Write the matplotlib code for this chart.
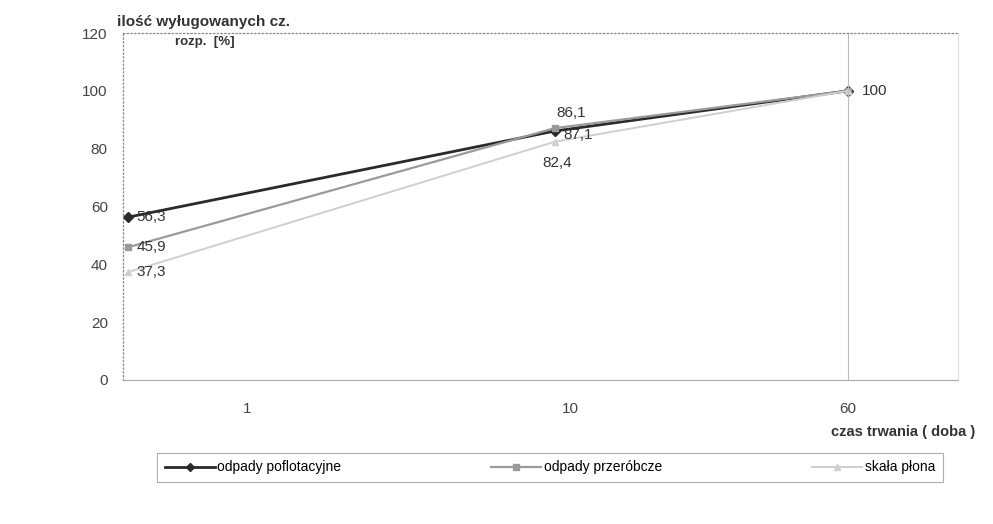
import matplotlib.pyplot as plt
from matplotlib.lines import Line2D

plt.rcParams['font.family'] = ['Liberation Sans', 'DejaVu Sans']

# czas ługowania (doby) i udział wyługowanych części rozpuszczalnych [%]
days = ['1', '10', '60']
day_pos = [0.006, 0.517, 0.868]      # położenie punktów na osi
tick_pos = [0.148, 0.535, 0.868]     # położenie podpisów osi X
poflotacyjne = [56.3, 86.1, 100]
przerobcze = [45.9, 87.1, 100]
skala_plona = [37.3, 82.4, 100]

series = [
    ('odpady poflotacyjne', poflotacyjne, '#2a2a2a', 'D', 2.0),
    ('odpady przeróbcze', przerobcze, '#9a9a9a', 's', 1.6),
    ('skała płona', skala_plona, '#cfcfcf', '^', 1.4),
]

fig = plt.figure(figsize=(9.93, 5.24), dpi=100)
ax = fig.add_axes([0.124, 0.275, 0.841, 0.662])

for name, vals, col, mk, lw in series:
    ax.plot(day_pos, vals, color=col, marker=mk, markersize=5, lw=lw, label=name)

# etykiety wartości
fs = 11
fmt = lambda v: ('%.1f' % v).replace('.', ',') if v != 100 else '100'
labels = [
    (poflotacyjne[0], 0, (6, 0), 'left'),
    (przerobcze[0], 0, (6, 0), 'left'),
    (skala_plona[0], 0, (6, 0), 'left'),
    (poflotacyjne[1], 1, (12, 13), 'center'),
    (przerobcze[1], 1, (17, -5), 'center'),
    (skala_plona[1], 1, (2, -15), 'center'),
    (poflotacyjne[2], 2, (10, 0), 'left'),
]
for v, i, off, ha in labels:
    ax.annotate(fmt(v), (day_pos[i], v), xytext=off, textcoords='offset points',
                ha=ha, va='center', fontsize=fs, color='#333')

ax.set_xlim(0, 1)
ax.set_ylim(0, 120)
ax.set_yticks(range(0, 121, 20))
ax.set_xticks(tick_pos)
ax.set_xticklabels(days)
ax.tick_params(axis='both', length=0, labelsize=11, colors='#444')
ax.tick_params(axis='y', pad=11)
ax.tick_params(axis='x', pad=16)
ax.axvline(day_pos[2], color='#bbbbbb', lw=0.8)

for side in ['top', 'left']:
    ax.spines[side].set_linestyle((0, (1, 2)))
    ax.spines[side].set_color('#888888')
    ax.spines[side].set_linewidth(0.9)
ax.spines['bottom'].set_color('#aaaaaa')
ax.spines['right'].set_color('#e0e0e0')

fig.text(0.118, 0.958, 'ilość wyługowanych cz.', fontsize=11, fontweight='bold',
         color='#333', va='center')
fig.text(0.176, 0.919, 'rozp.  [%]', fontsize=9.5, fontweight='bold',
         color='#333', va='center')
fig.text(0.982, 0.175, 'czas trwania ( doba )', fontsize=10.5, fontweight='bold',
         color='#333', ha='right', va='center')

handles = [Line2D([], [], color=c, marker=m, markersize=4, lw=lw) for _, _, c, m, lw in series]
leg = fig.legend(handles, [s[0] for s in series], loc='center', ncol=3,
                 bbox_to_anchor=(0.554, 0.108), fontsize=10, frameon=True,
                 fancybox=False, edgecolor='#999999', handlelength=3.6,
                 handletextpad=0.2, columnspacing=10.8, borderpad=0.55)
leg.get_frame().set_linewidth(0.8)

fig.savefig('out.png', dpi=100)
